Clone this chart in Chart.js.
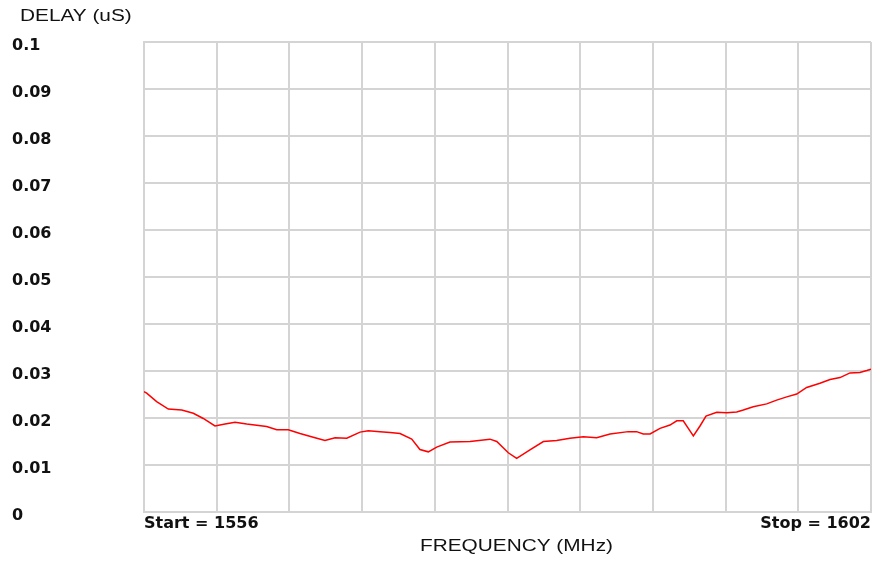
<!DOCTYPE html>
<html>
<head>
<meta charset="utf-8">
<script src="https://cdn.jsdelivr.net/npm/chart.js@4/dist/chart.umd.min.js"></script>
<style>
  body { margin: 0; background: #fff; }
  #wrap { width: 875px; height: 561px; }
</style>
</head>
<body>
<div id="wrap"><canvas id="delay" width="875" height="561"></canvas></div>
<script>
// Frequency (MHz) and group delay (uS)
const freqs = [
  1556.0, 1556.17, 1556.8, 1557.54, 1558.39, 1559.12, 1559.75, 1560.49, 1561.13, 1561.76,
  1562.5, 1563.76, 1564.4, 1565.13, 1565.87, 1566.71, 1567.45, 1568.09, 1568.83, 1569.67,
  1570.19, 1570.93, 1571.57, 1572.2, 1572.94, 1573.46, 1573.99, 1574.52, 1575.36, 1576.63,
  1577.89, 1578.32, 1579.05, 1579.58, 1580.42, 1581.27, 1582.11, 1582.95, 1583.8, 1584.64,
  1585.49, 1586.64, 1587.17, 1587.59, 1588.02, 1588.65, 1589.28, 1589.71, 1590.12, 1590.44,
  1590.76, 1591.18, 1591.56, 1592.24, 1592.87, 1593.5, 1593.92, 1594.55, 1595.4, 1596.03,
  1596.67, 1597.3, 1597.93, 1598.77, 1599.41, 1600.04, 1600.67, 1601.3, 1601.73, 1602.0
];
const delays = [
  0.0256, 0.0253, 0.0235, 0.0219, 0.0217, 0.0210, 0.0199, 0.0183, 0.0187, 0.0191,
  0.0187, 0.0182, 0.0175, 0.0175, 0.0167, 0.0159, 0.0152, 0.0158, 0.0157, 0.0170,
  0.0173, 0.0171, 0.0169, 0.0167, 0.0155, 0.0133, 0.0128, 0.0138, 0.0149, 0.0150,
  0.0155, 0.0150, 0.0126, 0.0114, 0.0132, 0.0150, 0.0152, 0.0157, 0.0160, 0.0158,
  0.0166, 0.0171, 0.0171, 0.0166, 0.0166, 0.0178, 0.0185, 0.0194, 0.0194, 0.0178,
  0.0162, 0.0183, 0.0204, 0.0212, 0.0211, 0.0213, 0.0217, 0.0224, 0.0230, 0.0238,
  0.0245, 0.0251, 0.0265, 0.0274, 0.0282, 0.0286, 0.0296, 0.0297, 0.0301, 0.0304
];
// Grid / tick positions
const xTicks = [1556, 1560.6, 1565.2, 1569.8, 1574.4, 1579, 1583.6, 1588.2, 1592.8, 1597.4, 1602];
const yTicks = [0, 0.01, 0.02, 0.03, 0.04, 0.05, 0.06, 0.07, 0.08, 0.09, 0.1];
const yLabels = ['0', '0.01', '0.02', '0.03', '0.04', '0.05', '0.06', '0.07', '0.08', '0.09', '0.1'];
const startLabel = 'Start = 1556';
const stopLabel = 'Stop = 1602';

const gridColor = '#d4d4d4';
const tickFont = { family: '"DejaVu Sans"', size: 16, weight: 'bold' };

// axis titles, drawn stretched like the original bitmap fonts
const axisTitles = {
  id: 'axisTitles',
  afterDraw(chart) {
    const ctx = chart.ctx;
    ctx.save();
    ctx.font = '16px "Liberation Sans"';
    ctx.fillStyle = '#111';
    ctx.textBaseline = 'middle';
    ctx.textAlign = 'left';
    ctx.save();
    ctx.translate(20, 17);
    ctx.scale(1.3, 1);
    ctx.fillText('DELAY (uS)', 0, 0);
    ctx.restore();
    ctx.save();
    ctx.translate(420, 547);
    ctx.scale(1.3, 1);
    ctx.fillText('FREQUENCY (MHz)', 0, 0);
    ctx.restore();
    ctx.restore();
  }
};

const chart = new Chart(document.getElementById('delay'), {
  type: 'line',
  plugins: [axisTitles],
  data: {
    datasets: [{
      data: freqs.map((f, i) => ({ x: f, y: delays[i] })),
      borderColor: '#ff0000',
      borderWidth: 1.5,
      pointRadius: 0,
      tension: 0,
      fill: false
    }]
  },
  options: {
    responsive: false,
    animation: false,
    layout: { padding: { left: 12, top: 42, right: 4, bottom: 0 } },
    plugins: { legend: { display: false }, tooltip: { enabled: false } },
    scales: {
      x: {
        type: 'linear',
        min: 1556,
        max: 1602,
        afterBuildTicks: (scale) => { scale.ticks = xTicks.map(v => ({ value: v })); },
        afterFit: (scale) => { scale.height = 49; },
        grid: { color: gridColor, lineWidth: 2, drawTicks: false },
        border: { color: gridColor, width: 2 },
        ticks: {
          autoSkip: false,
          maxRotation: 0,
          align: 'inner',
          padding: 2,
          color: '#111',
          font: tickFont,
          callback: (v) => v === 1556 ? startLabel : (v === 1602 ? stopLabel : '')
        }
      },
      y: {
        min: 0,
        max: 0.1,
        afterBuildTicks: (scale) => { scale.ticks = yTicks.map(v => ({ value: v })); },
        afterFit: (scale) => { scale.width = 132; },
        grid: { color: gridColor, lineWidth: 2, drawTicks: false },
        border: { color: gridColor, width: 2 },
        ticks: {
          crossAlign: 'far',
          labelOffset: 4,
          color: '#111',
          font: tickFont,
          callback: (v, i) => yLabels[i]
        }
      }
    }
  }
});
</script>
</body>
</html>
